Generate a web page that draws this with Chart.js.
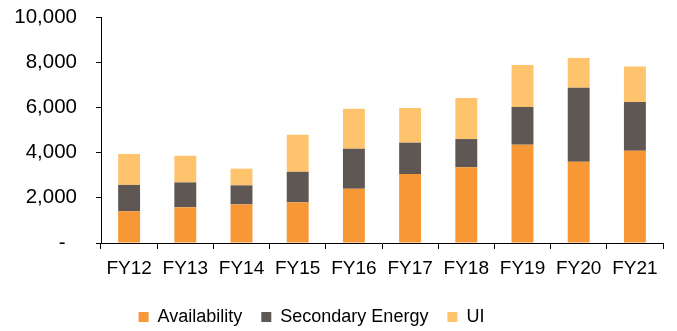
<!DOCTYPE html>
<html>
<head>
<meta charset="utf-8">
<script src="https://cdn.jsdelivr.net/npm/chart.js@4/dist/chart.umd.min.js"></script>
<style>
  html, body { margin: 0; padding: 0; background: #fff; }
  #wrap { width: 677px; height: 331px; }
</style>
</head>
<body>
<div id="wrap"><canvas id="chart" width="677" height="331"></canvas></div>
<script>
const years = ["FY12", "FY13", "FY14", "FY15", "FY16", "FY17", "FY18", "FY19", "FY20", "FY21"];
const availability = [1400, 1580, 1710, 1800, 2400, 3050, 3350, 4350, 3600, 4080];
const secondaryEnergy = [1170, 1100, 840, 1350, 1770, 1390, 1250, 1670, 3270, 2160];
const ui = [1370, 1180, 740, 1640, 1770, 1530, 1820, 1860, 1320, 1570];
const yTicks = [0, 2000, 4000, 6000, 8000, 10000];

const font = "Arial, 'Liberation Sans', sans-serif";

const ctx = document.getElementById("chart").getContext("2d");
new Chart(ctx, {
    type: "bar",
    data: {
        labels: years,
        datasets: [
            { label: "Availability", data: availability, backgroundColor: "#F79735" },
            { label: "Secondary Energy", data: secondaryEnergy, backgroundColor: "#5F5753" },
            { label: "UI", data: ui, backgroundColor: "#FDC46D" }
        ]
    },
    options: {
        responsive: false,
        animation: false,
        layout: { padding: { top: 17, right: 14, bottom: -5, left: 0 } },
        datasets: { bar: { barPercentage: 0.39, categoryPercentage: 1 } },
        plugins: {
            tooltip: { enabled: false },
            legend: {
                position: "bottom",
                labels: {
                    boxWidth: 10,
                    boxHeight: 10,
                    padding: 19,
                    color: "#000",
                    font: { family: font, size: 18 },
                    // trailing spaces on the last label push the centred row a little left, as in the original
                    generateLabels: function (chart) {
                        const items = Chart.defaults.plugins.legend.labels.generateLabels(chart);
                        items[items.length - 1].text += "        ";
                        return items;
                    }
                }
            }
        },
        scales: {
            x: {
                stacked: true,
                grid: { display: true, drawOnChartArea: false, tickLength: 6, color: "#000", offset: true },
                border: { display: true, color: "#000", width: 1 },
                ticks: { color: "#000", padding: 8, maxRotation: 0, font: { family: font, size: 19 } },
                afterFit: function (scale) { scale.height = 46; }
            },
            y: {
                stacked: true,
                min: 0,
                max: 10000,
                afterBuildTicks: function (scale) {
                    scale.ticks = yTicks.map(v => ({ value: v }));
                },
                grid: { display: true, drawOnChartArea: false, tickLength: 5, color: "#000" },
                border: { display: true, color: "#000", width: 1 },
                ticks: {
                    color: "#000",
                    padding: 19,
                    font: { family: font, size: 20.5 },
                    callback: function (v) {
                        return v === 0 ? "-  " : v.toLocaleString("en-US");
                    }
                },
                afterFit: function (scale) {
                    scale.width = 101;
                    scale.paddingTop = 0;
                    scale.paddingBottom = 0;
                }
            }
        }
    }
});
</script>
</body>
</html>
